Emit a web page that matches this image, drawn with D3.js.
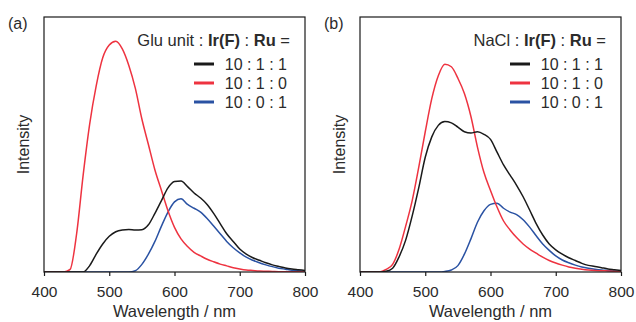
<!DOCTYPE html>
<html>
<head>
<meta charset="utf-8">
<script src="https://cdn.jsdelivr.net/npm/d3@7"></script>
<style>
  body { margin: 0; background: #fff; }
  svg { display: block; font-family: "Liberation Sans", Arial, sans-serif; }
</style>
</head>
<body>
<svg id="chart" width="636" height="322"></svg>
<script>
// wavelength grid (nm), shared by every series
const wavelengths = d3.range(400, 801, 10);
const xTicks = [400, 500, 600, 700, 800];
const legendLabels = ['10 : 1 : 1', '10 : 1 : 0', '10 : 0 : 1'];

// (a) Glu unit : Ir(F) : Ru
const gluBlack = [0, 0, 0, 0, 0, 0, 0, 0.025, 0.07, 0.11, 0.14, 0.158, 0.165, 0.167, 0.165, 0.166, 0.185, 0.23, 0.28, 0.33,
  0.355, 0.357, 0.335, 0.31, 0.29, 0.265, 0.23, 0.19, 0.15, 0.12, 0.09, 0.07, 0.056, 0.046, 0.036, 0.028, 0.022, 0.016, 0.012, 0.009, 0.006];
const gluRed = [0, 0, 0, 0, 0.01, 0.15, 0.38, 0.58, 0.73, 0.84, 0.89, 0.905, 0.875, 0.81, 0.72, 0.6, 0.5, 0.4, 0.32, 0.24,
  0.175, 0.13, 0.1, 0.077, 0.063, 0.05, 0.04, 0.031, 0.024, 0.017, 0.012, 0.008, 0.006, 0.004, 0.003, 0.002, 0.001, 0.001, 0.001, 0.001, 0];
const gluBlue = [0, 0, 0, 0, 0, 0, 0, 0, 0, 0, 0, 0, 0, 0, 0.005, 0.03, 0.07, 0.12, 0.18, 0.235,
  0.275, 0.287, 0.265, 0.25, 0.235, 0.21, 0.18, 0.15, 0.12, 0.095, 0.075, 0.058, 0.046, 0.036, 0.028, 0.021, 0.015, 0.011, 0.007, 0.005, 0.003];

// (b) NaCl : Ir(F) : Ru
const naclBlack = [0, 0, 0, 0, 0.003, 0.015, 0.06, 0.125, 0.22, 0.33, 0.45, 0.53, 0.575, 0.59, 0.585, 0.568, 0.55, 0.545, 0.55, 0.54,
  0.52, 0.47, 0.42, 0.38, 0.34, 0.295, 0.243, 0.19, 0.145, 0.11, 0.087, 0.07, 0.056, 0.045, 0.034, 0.026, 0.022, 0.017, 0.012, 0.009, 0.006];
const naclRed = [0, 0, 0, 0, 0.01, 0.03, 0.09, 0.18, 0.28, 0.41, 0.55, 0.68, 0.77, 0.815, 0.805, 0.76, 0.7, 0.61, 0.49, 0.39,
  0.32, 0.255, 0.2, 0.165, 0.135, 0.11, 0.09, 0.074, 0.058, 0.045, 0.035, 0.027, 0.02, 0.015, 0.011, 0.008, 0.006, 0.005, 0.004, 0.003, 0.002];
const naclBlue = [0, 0, 0, 0, 0, 0, 0, 0, 0, 0, 0, 0, 0, 0.002, 0.008, 0.025, 0.07, 0.13, 0.195, 0.24,
  0.265, 0.27, 0.25, 0.235, 0.225, 0.205, 0.176, 0.142, 0.11, 0.085, 0.063, 0.047, 0.036, 0.027, 0.02, 0.015, 0.011, 0.008, 0.006, 0.004, 0.003];

const colors = ['#1a1a1a', '#ee3340', '#2a52a3'];
const textColor = '#2b2b2b';

const svg = d3.select('#chart');
const plotTop = 17, plotBottom = 272, plotW = 261;

function drawPanel(left, tag, host, series) {
  const x = d3.scaleLinear().domain([400, 800]).range([left, left + plotW]);
  const y = d3.scaleLinear().domain([0, 1]).range([plotBottom, plotTop]);
  const g = svg.append('g');
  const clipId = 'clip-' + tag.replace(/\W/g, '');

  g.append('clipPath').attr('id', clipId)
    .append('rect').attr('x', left).attr('y', plotTop).attr('width', plotW).attr('height', plotBottom - plotTop);

  const line = d3.line()
    .x((d, i) => x(wavelengths[i]))
    .y(d => y(d))
    .curve(d3.curveMonotoneX);

  // draw blue, red, then black on top
  [2, 1, 0].forEach(k => {
    g.append('path')
      .attr('clip-path', `url(#${clipId})`)
      .attr('d', line(series[k]))
      .attr('fill', 'none')
      .attr('stroke', colors[k])
      .attr('stroke-width', 1.5)
      .attr('stroke-linejoin', 'round');
  });

  // frame
  g.append('rect')
    .attr('x', left).attr('y', plotTop)
    .attr('width', plotW).attr('height', plotBottom - plotTop)
    .attr('fill', 'none').attr('stroke', '#1a1a1a').attr('stroke-width', 1.2);

  const xAxis = g.append('g')
    .attr('transform', `translate(0,${plotBottom})`)
    .call(d3.axisBottom(x).tickValues(xTicks).tickSize(4).tickPadding(10).tickFormat(d3.format('d')));
  xAxis.select('.domain').remove();
  xAxis.selectAll('line').attr('stroke', '#1a1a1a').attr('stroke-width', 1.2);
  xAxis.selectAll('text').attr('fill', textColor).style('font-size', '15.5px');

  g.append('text')
    .attr('x', left + plotW / 2).attr('y', 317)
    .attr('text-anchor', 'middle').attr('fill', textColor)
    .style('font-size', '16.5px')
    .text('Wavelength / nm');

  g.append('text')
    .attr('transform', `translate(${left - 15},${(plotTop + plotBottom) / 2}) rotate(-90)`)
    .attr('text-anchor', 'middle').attr('fill', textColor)
    .style('font-size', '16px')
    .text('Intensity');

  g.append('text')
    .attr('x', left - 36).attr('y', 29)
    .attr('fill', textColor).style('font-size', '16px')
    .text(tag);

  // legend title with bold parts
  const title = g.append('text')
    .attr('x', left + plotW - 15).attr('y', 46)
    .attr('text-anchor', 'end').attr('fill', textColor)
    .style('font-size', '16.5px');
  [[host + ' : ', 'normal'], ['Ir(F)', 'bold'], [' : ', 'normal'], ['Ru', 'bold'], [' =', 'normal']]
    .forEach(([t, w]) => title.append('tspan').attr('font-weight', w).text(t));

  legendLabels.forEach((lab, i) => {
    const ly = 64 + i * 19;
    g.append('line')
      .attr('x1', left + plotW - 111).attr('x2', left + plotW - 91)
      .attr('y1', ly).attr('y2', ly)
      .attr('stroke', colors[i]).attr('stroke-width', 3);
    g.append('text')
      .attr('x', left + plotW - 18).attr('y', ly + 6)
      .attr('text-anchor', 'end').attr('fill', textColor)
      .style('font-size', '16px')
      .text(lab);
  });
}

drawPanel(44, '(a)', 'Glu unit', [gluBlack, gluRed, gluBlue]);
drawPanel(360, '(b)', 'NaCl', [naclBlack, naclRed, naclBlue]);
</script>
</body>
</html>
